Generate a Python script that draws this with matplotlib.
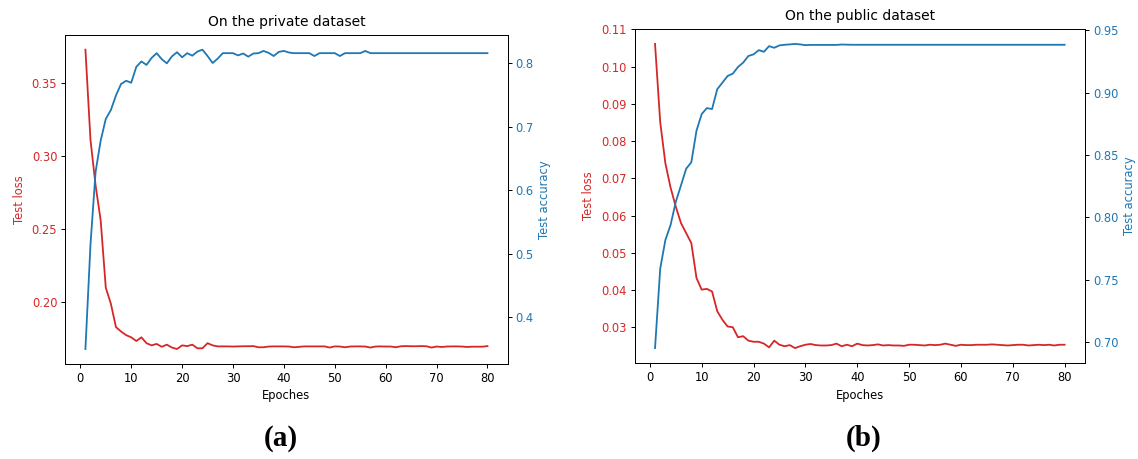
import matplotlib
matplotlib.use('Agg')
import matplotlib.pyplot as plt

# epochs 1..80
epochs = list(range(1, 81))

# private dataset - test loss / test accuracy
loss_private = [0.373, 0.311, 0.280, 0.256, 0.210, 0.199, 0.183, 0.180, 0.1775, 0.176,
                0.1735, 0.176, 0.172, 0.1705, 0.1715, 0.1695, 0.171, 0.169, 0.168, 0.1705,
                0.170, 0.171, 0.1685, 0.1685, 0.172, 0.1705, 0.1698, 0.1698, 0.1698, 0.1697,
                0.1698, 0.1699, 0.1699, 0.170, 0.1692, 0.1692, 0.1697, 0.1698, 0.1698, 0.1698,
                0.1697, 0.1692, 0.1695, 0.1698, 0.1698, 0.1698, 0.1698, 0.1698, 0.169, 0.1698,
                0.1697, 0.1692, 0.1697, 0.1698, 0.1698, 0.1697, 0.169, 0.1697, 0.1698, 0.1697,
                0.1697, 0.1692, 0.1699, 0.170, 0.1699, 0.1699, 0.170, 0.1699, 0.169, 0.1697,
                0.1694, 0.1697, 0.1698, 0.1698, 0.1697, 0.1694, 0.1696, 0.1696, 0.1696, 0.170]
acc_private = [0.350, 0.515, 0.629, 0.678, 0.712, 0.726, 0.749, 0.767, 0.772, 0.769,
               0.794, 0.8025, 0.797, 0.808, 0.8155, 0.806, 0.7995, 0.8105, 0.817, 0.809,
               0.8155, 0.8115, 0.818, 0.821, 0.811, 0.800, 0.807, 0.8155, 0.8155, 0.8155,
               0.812, 0.815, 0.810, 0.815, 0.8155, 0.819, 0.816, 0.811, 0.8175, 0.819,
               0.8165, 0.8155, 0.8155, 0.8155, 0.8155, 0.811, 0.8155, 0.8155, 0.8155, 0.8155,
               0.811, 0.8155, 0.8155, 0.8155, 0.8155, 0.819, 0.8155, 0.8155, 0.8155, 0.8155,
               0.8155, 0.8155, 0.8155, 0.8155, 0.8155, 0.8155, 0.8155, 0.8155, 0.8155, 0.8155,
               0.8155, 0.8155, 0.8155, 0.8155, 0.8155, 0.8155, 0.8155, 0.8155, 0.8155, 0.8155]

# public dataset - test loss / test accuracy
loss_public = [0.1061, 0.0851, 0.074, 0.0675, 0.0624, 0.058, 0.0553, 0.0526, 0.0432, 0.0401,
               0.0403, 0.0396, 0.0343, 0.032, 0.0302, 0.030, 0.0273, 0.0276, 0.0264, 0.0261,
               0.0261, 0.0256, 0.0246, 0.0264, 0.0253, 0.0249, 0.0252, 0.0244, 0.0249, 0.0253,
               0.0255, 0.0252, 0.0251, 0.0251, 0.0252, 0.0256, 0.0249, 0.0253, 0.0249, 0.0256,
               0.0252, 0.0251, 0.0252, 0.0254, 0.0251, 0.0252, 0.0251, 0.0251, 0.025, 0.0253,
               0.0253, 0.0252, 0.0251, 0.0253, 0.0252, 0.0253, 0.0256, 0.0253, 0.0250, 0.0253,
               0.0252, 0.0252, 0.0253, 0.0253, 0.0253, 0.0254, 0.0253, 0.0252, 0.0251, 0.0252,
               0.0253, 0.0253, 0.0251, 0.0252, 0.0253, 0.0252, 0.0253, 0.0251, 0.0253, 0.0253]
acc_public = [0.6954, 0.759, 0.782, 0.794, 0.8125, 0.8256, 0.839, 0.8442, 0.8695, 0.8828,
              0.8876, 0.8868, 0.9027, 0.908, 0.9133, 0.9152, 0.9205, 0.924, 0.9293, 0.9306,
              0.934, 0.9327, 0.9372, 0.9359, 0.9378, 0.9383, 0.9386, 0.939, 0.9386, 0.938,
              0.9382, 0.9382, 0.9382, 0.9382, 0.9382, 0.9382, 0.9385, 0.9384, 0.9383, 0.9383,
              0.9383, 0.9383, 0.9383, 0.9383, 0.9383, 0.9383, 0.9383, 0.9383, 0.9383, 0.9383,
              0.9383, 0.9383, 0.9383, 0.9383, 0.9383, 0.9383, 0.9383, 0.9383, 0.9383, 0.9383,
              0.9383, 0.9383, 0.9383, 0.9383, 0.9383, 0.9383, 0.9383, 0.9383, 0.9383, 0.9383,
              0.9383, 0.9383, 0.9383, 0.9383, 0.9383, 0.9383, 0.9383, 0.9383, 0.9383, 0.9383]

titles = ['On the private dataset', 'On the public dataset']
panel_labels = ['(a)', '(b)']

FS = 8.3  # tick / axis label size
plt.rcParams['font.family'] = 'DejaVu Sans'
plt.rcParams['axes.linewidth'] = 0.7
plt.rcParams['xtick.major.size'] = 2.9
plt.rcParams['ytick.major.size'] = 2.9
plt.rcParams['xtick.major.width'] = 0.7
plt.rcParams['ytick.major.width'] = 0.7

fig = plt.figure(figsize=(11.38, 4.59), dpi=100)

# axes positions in figure fraction [left, bottom, width, height]
positions = [[0.0574, 0.2070, 0.3886, 0.7174],
             [0.5576, 0.2085, 0.3959, 0.7290]]
label_x = [281 / 1138, 864 / 1138]


def draw_panel(pos, loss, acc, title):
    """ twin-axis plot: loss on the left, accuracy on the right """
    ax1 = fig.add_axes(pos)
    red = 'tab:red'
    ax1.set_xlabel('Epoches', fontsize=FS, labelpad=3)
    ax1.set_ylabel('Test loss', color=red, fontsize=FS, labelpad=4)
    ax1.plot(epochs, loss, color=red, linewidth=1.3)
    ax1.tick_params(axis='y', labelcolor=red, labelsize=FS, pad=2.9)
    ax1.tick_params(axis='x', labelsize=FS, pad=2.9)
    ax1.set_xticks([0, 10, 20, 30, 40, 50, 60, 70, 80])

    ax2 = ax1.twinx()
    blue = 'tab:blue'
    ax2.set_ylabel('Test accuracy', color=blue, fontsize=FS, labelpad=3)
    ax2.plot(epochs, acc, color=blue, linewidth=1.3)
    ax2.tick_params(axis='y', labelcolor=blue, labelsize=FS, pad=2.9)

    ax1.set_title(title, fontsize=10, pad=6.5)
    return ax1, ax2


draw_panel(positions[0], loss_private, acc_private, titles[0])
draw_panel(positions[1], loss_public, acc_public, titles[1])

for x, lab in zip(label_x, panel_labels):
    fig.text(x, 1 - 438 / 459, lab, ha='center', va='center',
             fontsize=21, fontweight='bold', family='Liberation Serif')

fig.savefig('out.png', dpi=100)
